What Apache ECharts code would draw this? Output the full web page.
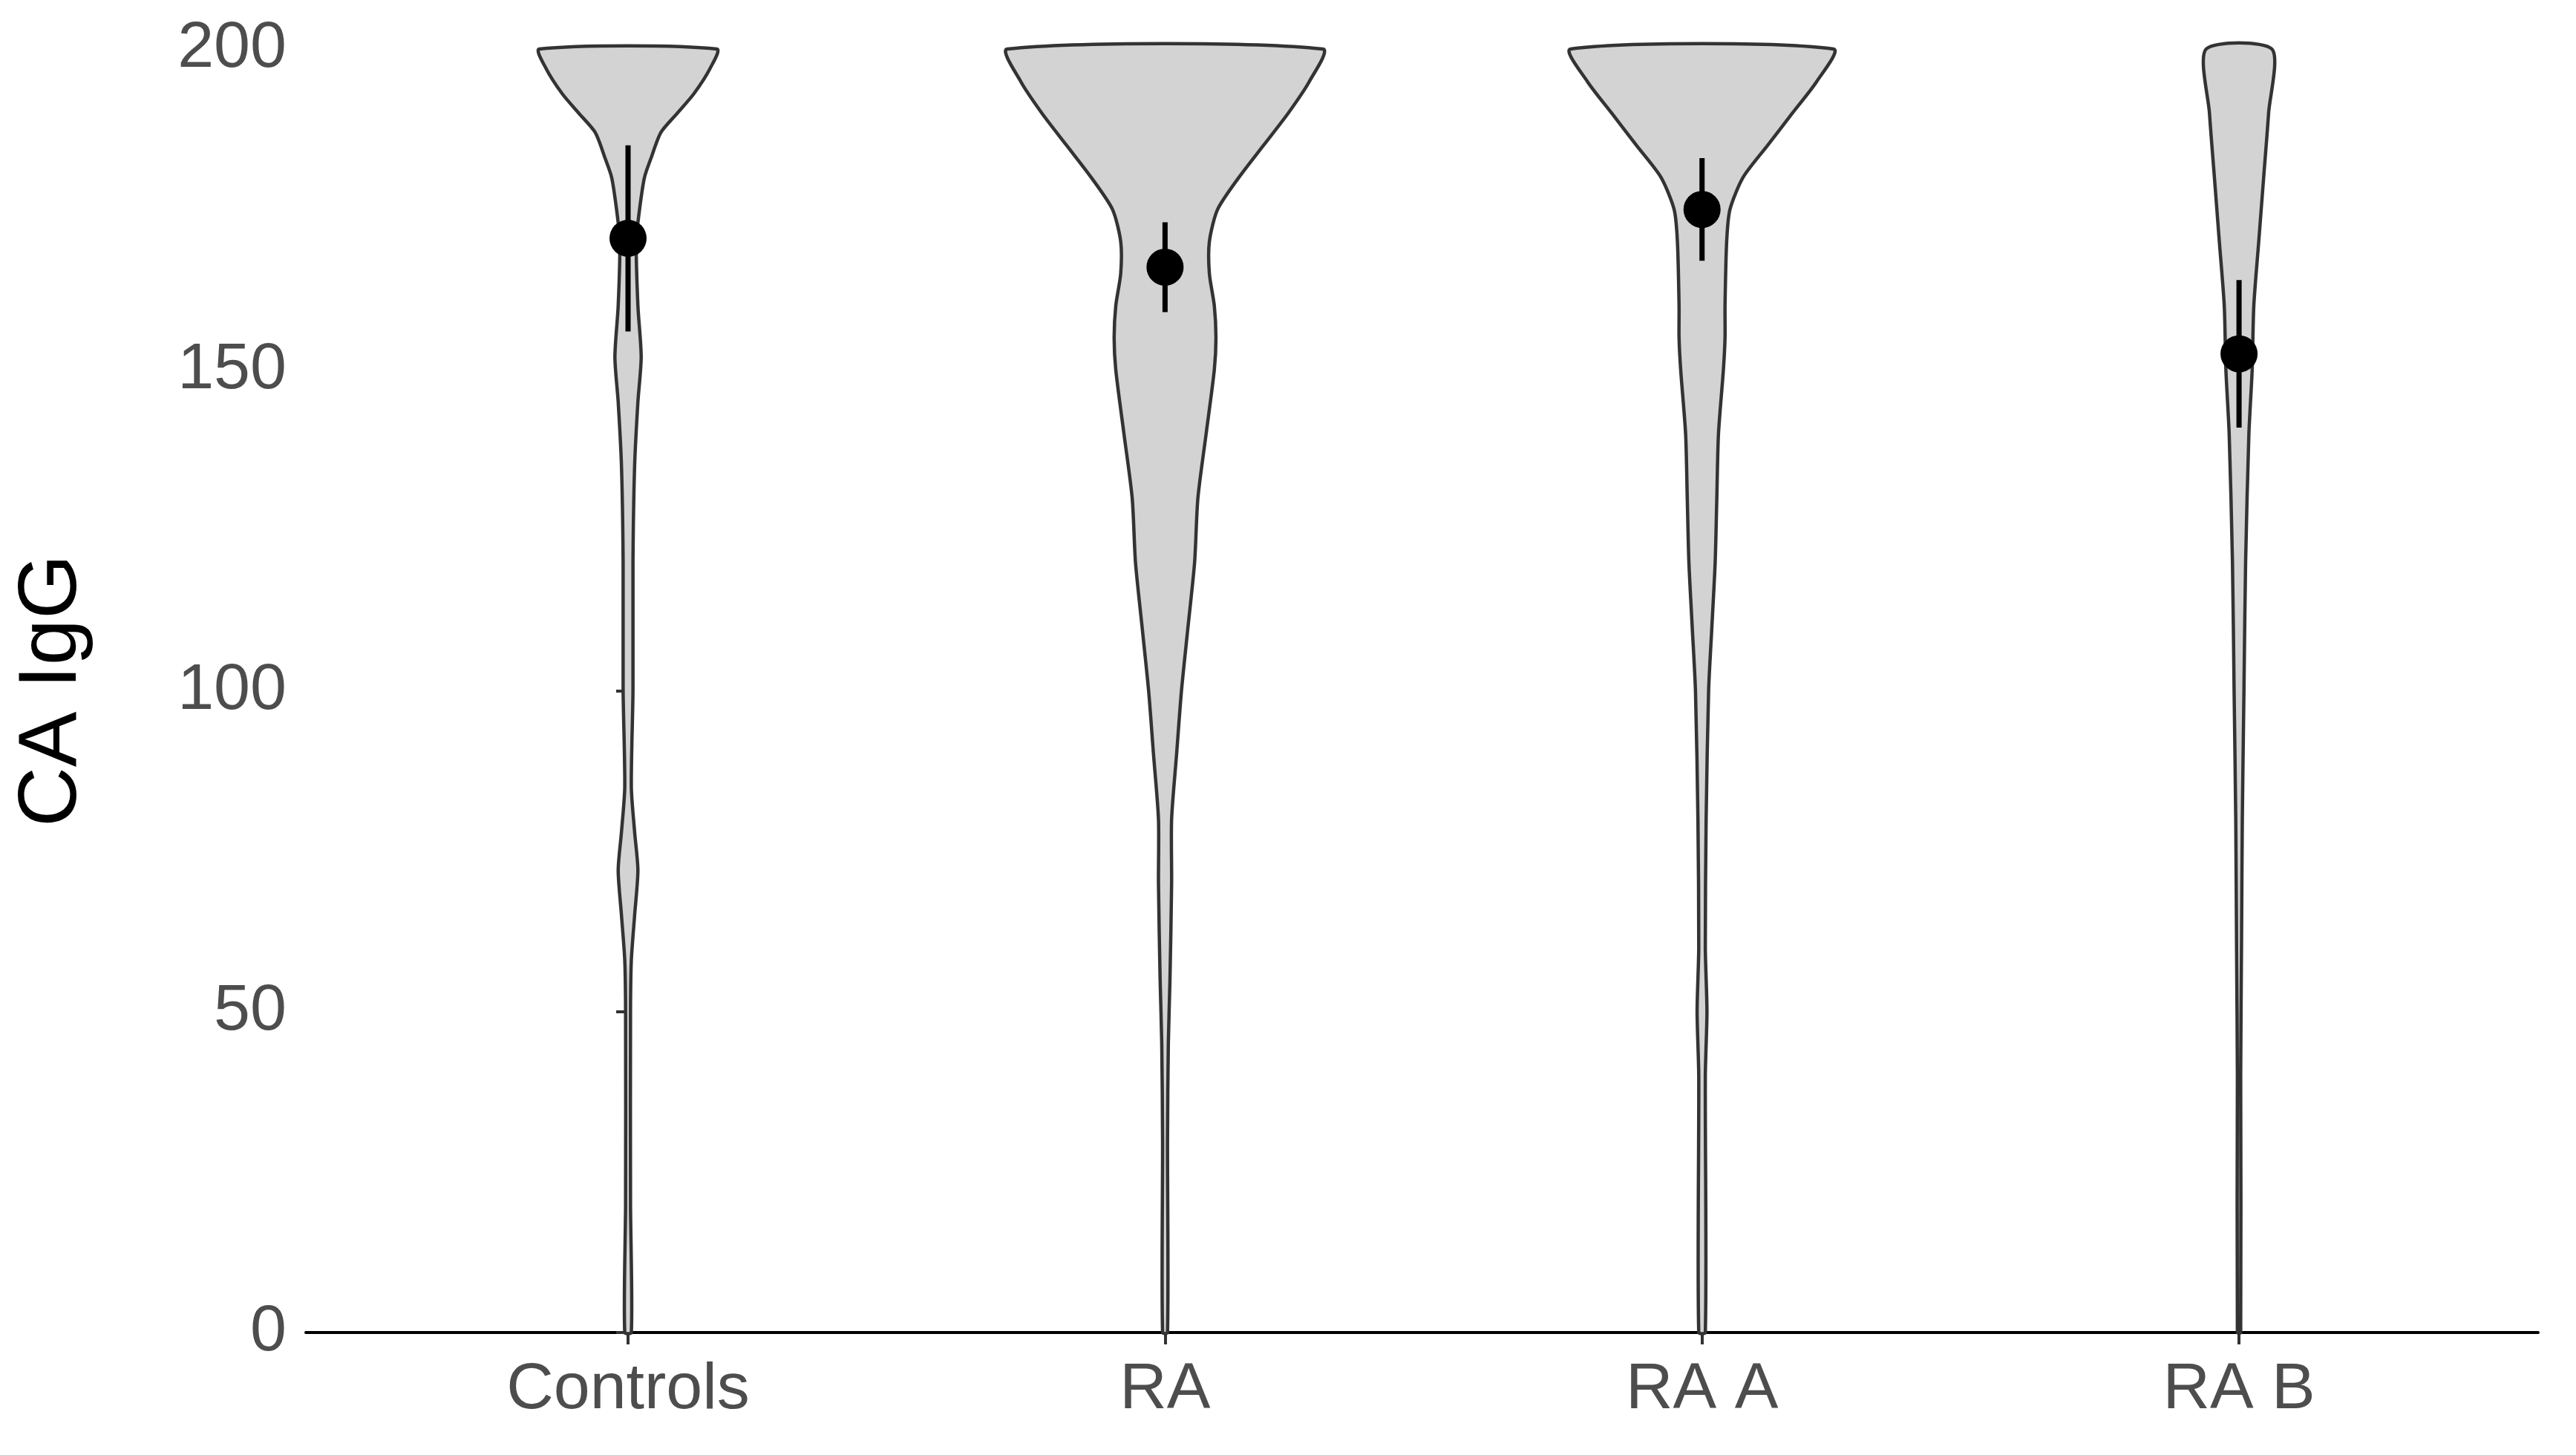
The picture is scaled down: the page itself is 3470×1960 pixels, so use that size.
<!DOCTYPE html><html><head><meta charset="utf-8">
<script src="https://cdn.jsdelivr.net/npm/echarts@6/dist/echarts.min.js"></script>
<style>html,body{margin:0;background:#fff}#c{width:3470px;height:1960px}</style></head><body><div id="c"></div><script>
const categories=['Controls','RA','RA A','RA B'];
const yTicks=[0,50,100,150,200];
const levelsC=[0,20,50,58,65,72,78,85,100,120,135,145,152,160,170,175,180,183,187,190,193,197,200];
const densC=[2,1.5,1.5,2,4,6,4,2,3,3,4,6,8,6,5,7,10,14,20,30,40,50,54];
const levelsRA=[0,30,45,55,70,80,90,100,110,120,130,140,150,155,160,165,170,175,180,185,190,195,200];
const densRA=[1.5,1.5,2,3,4,4,7,10,14,18,20,25,30,31,30,27,27,32,45,60,75,88,96];
const levelsRAA=[0,40,50,60,80,100,110,120,130,140,150,155,160,170,175,180,185,190,195,200];
const densRAA=[2,2,3,2,2.5,4,6,8,9,10,13,14,14,15,17,25,40,55,70,80];
const levelsRAB=[0,40,60,80,100,120,140,150,160,170,180,190,200];
const densRAB=[1,1,1.5,2,3,4,6,8,9,12,15,18,20];
const means=[170.5,166,175,152.5];
const lower=[156,159,167,141];
const upper=[185,173,183,164];
const violins=[[levelsC,densC],[levelsRA,densRA],[levelsRAA,densRAA],[levelsRAB,densRAB]];
const chart=echarts.init(document.getElementById('c'));
const txt='#4d4d4d';
chart.setOption({
 animation:false,
 grid:{left:412,right:51,top:66,bottom:165},
 xAxis:{type:'value',min:-0.6,max:3.557,splitLine:{show:false},axisLine:{lineStyle:{color:'#000',width:4}},
  axisTick:{show:true,customValues:[0,1,2,3],length:16,lineStyle:{color:'#333',width:4}},
  axisLabel:{customValues:[0,1,2,3],formatter:v=>categories[Math.round(v)],color:txt,fontSize:88,fontFamily:'Liberation Sans',margin:34}},
 yAxis:{type:'value',min:0,max:200,interval:50,name:'CA IgG',nameLocation:'middle',nameGap:285,
  nameTextStyle:{color:'#000',fontSize:112,fontFamily:'Liberation Sans'},
  axisLine:{show:true,lineStyle:{color:'#000',width:4}},axisTick:{show:true,length:16,lineStyle:{color:'#333',width:4}},
  splitLine:{show:false},axisLabel:{color:txt,fontSize:88,fontFamily:'Liberation Sans',margin:26}},
 series:[
  {type:'custom',data:categories.map((c,i)=>[i]),z:2,
   renderItem:(params,api)=>{
     const i=api.value(0);const [lv,d]=violins[i];
     const band=api.size([1,0])[0];
     const cx=api.coord([i,0])[0];
     const left=[],right=[];
     lv.forEach((y,k)=>{const py=api.coord([i,y])[1];const w=d[k]/327*band;
       right.push([cx+w,py]);left.push([cx-w,py]);});
     const pts=right.concat(left.reverse());
     return {type:'polygon',shape:{points:pts,smooth:0.25},style:{fill:'#d3d3d3',stroke:'#333',lineWidth:4.5}};
   }},
  {type:'custom',data:categories.map((c,i)=>[i,lower[i],upper[i]]),z:3,
   renderItem:(params,api)=>{const a=api.coord([api.value(0),api.value(1)]);const b=api.coord([api.value(0),api.value(2)]);
     return {type:'line',shape:{x1:a[0],y1:a[1],x2:b[0],y2:b[1]},style:{stroke:'#000',lineWidth:7}};}},
  {type:'scatter',data:means.map((m,i)=>[i,m]),symbolSize:50,itemStyle:{color:'#000',opacity:1},z:4}
 ]});
</script></body></html>
